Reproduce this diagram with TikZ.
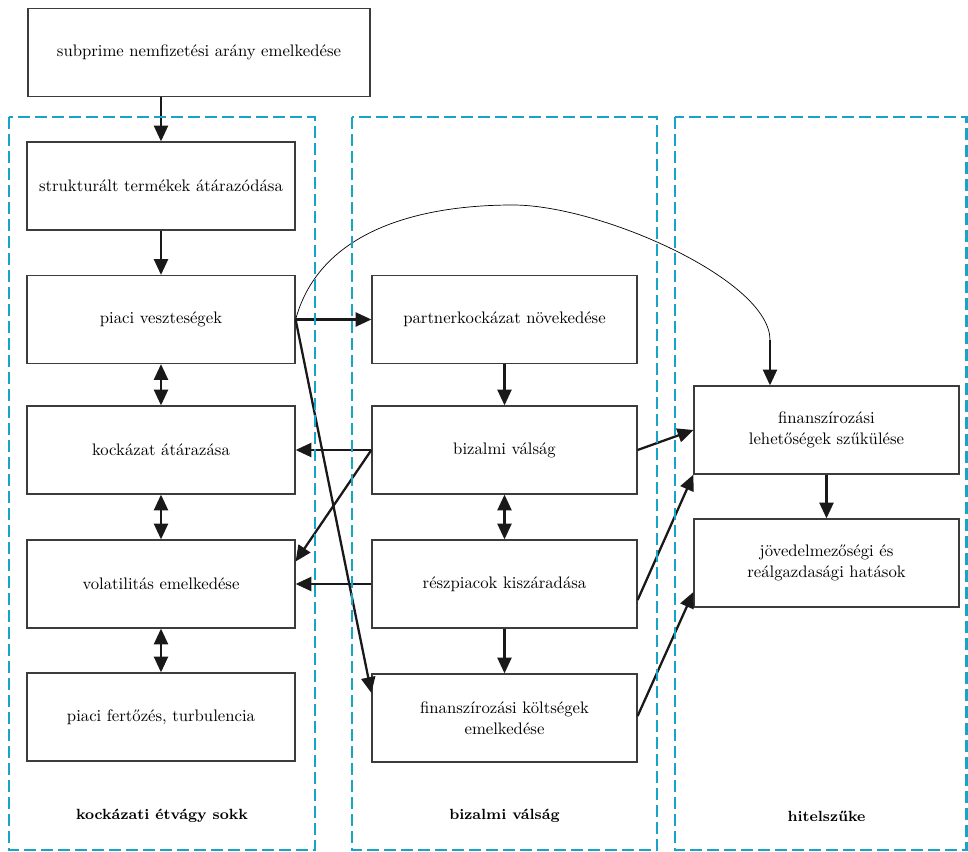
\documentclass[tikz,border=0pt]{standalone}
\usepackage{tikz}
\usetikzlibrary{arrows.meta}
\definecolor{frameblue}{RGB}{24,164,200}
\definecolor{boxgray}{RGB}{60,60,60}

\begin{document}
\begin{tikzpicture}[font=\fontsize{9.5}{12}\selectfont]
	\useasboundingbox (0,0) rectangle (19.36,-17.04);
	\begin{scope}[every node/.style = {rectangle, draw=boxgray, line width=0.7pt,
			minimum height=1.76cm, align=center}]
		\node[minimum width=6.84cm] (S) at (3.98,-1.05) {subprime nemfizetési arány emelkedése};
		\begin{scope}[every node/.append style={minimum width=5.36cm}]
			\node (T) at (3.22,-3.72) {strukturált termékek átárazódása};
			\node (P) at (3.22,-6.39) {piaci veszteségek};
			\node (K) at (3.22,-9.00) {kockázat átárazása};
			\node (V) at (3.22,-11.68) {volatilitás emelkedése};
			\node (F) at (3.22,-14.34) {piaci fertőzés, turbulencia};
		\end{scope}
		\begin{scope}[every node/.append style={minimum width=5.3cm}]
			\node (N) at (10.09,-6.39) {partnerkockázat növekedése};
			\node (B) at (10.09,-9.00) {bizalmi válság};
			\node (R) at (10.09,-11.68) {részpiacok kiszáradása};
			\node (C) at (10.09,-14.36) {finanszírozási költségek\\emelkedése};
			\node (L) at (16.53,-8.60) {finanszírozási\\lehetőségek szűkülése};
			\node (J) at (16.53,-11.26) {jövedelmezőségi és\\reálgazdasági hatások};
		\end{scope}
	\end{scope}
	\begin{scope}[font=\fontsize{8.4}{10}\selectfont\bfseries]
		\node (KS) at (3.24,-16.32) {kockázati étvágy sokk};
		\node (BV) at (10.09,-16.32) {bizalmi válság};
		\node (HS) at (16.53,-16.32) {hitelszűke};
	\end{scope}
	\coordinate (Q) at (15.4,-6.8);
	\draw[line width=0.4pt] (P.east) .. controls (6.4,-4.6) and (8.4,-4.1) .. (10.26,-4.1)
		.. controls (12.0,-4.1) and (15.4,-5.6) .. (Q);
	\begin{scope}[>={Triangle[length=9pt,width=8pt]},
			every edge/.style={draw=black!90, line width=1.3pt}]
		\path [->] (S.south -| T) edge (T);
		\path [->] (T) edge (P);
		\path [<->] (P) edge (K);
		\path [<->] (K) edge (V);
		\path [<->] (V) edge (F);
		\path [->] (P.east) edge (N);
		\path [->] (P.east) edge ([yshift=0.5cm]C.west);
		\path [->] (Q) edge (Q |- L.north);
		\path [->] (N) edge (B);
		\path [->] (B.west) edge (K.east);
		\path [->] (B.west) edge ([yshift=0.45cm]V.east);
		\path [<->] (B) edge (R);
		\path [->] (R.west) edge (V.east);
		\path [->] (R) edge (C);
		\path [->] (B.east) edge (L.west);
		\path [->] ([yshift=-0.32cm]R.east) edge (L.south west);
		\path [->] ([yshift=0.04cm]C.east) edge ([yshift=-0.58cm]J.west);
		\path [->] (L) edge (J);
	\end{scope}
	\begin{scope}[draw=frameblue, line width=1.3pt, dash pattern=on 0.24cm off 0.1cm]
		\draw (0.18,-2.34) rectangle (6.3,-17.0);
		\draw (7.04,-2.34) rectangle (13.14,-17.0);
		\draw (13.5,-2.34) rectangle (19.33,-17.0);
	\end{scope}

\end{tikzpicture}
\end{document}
